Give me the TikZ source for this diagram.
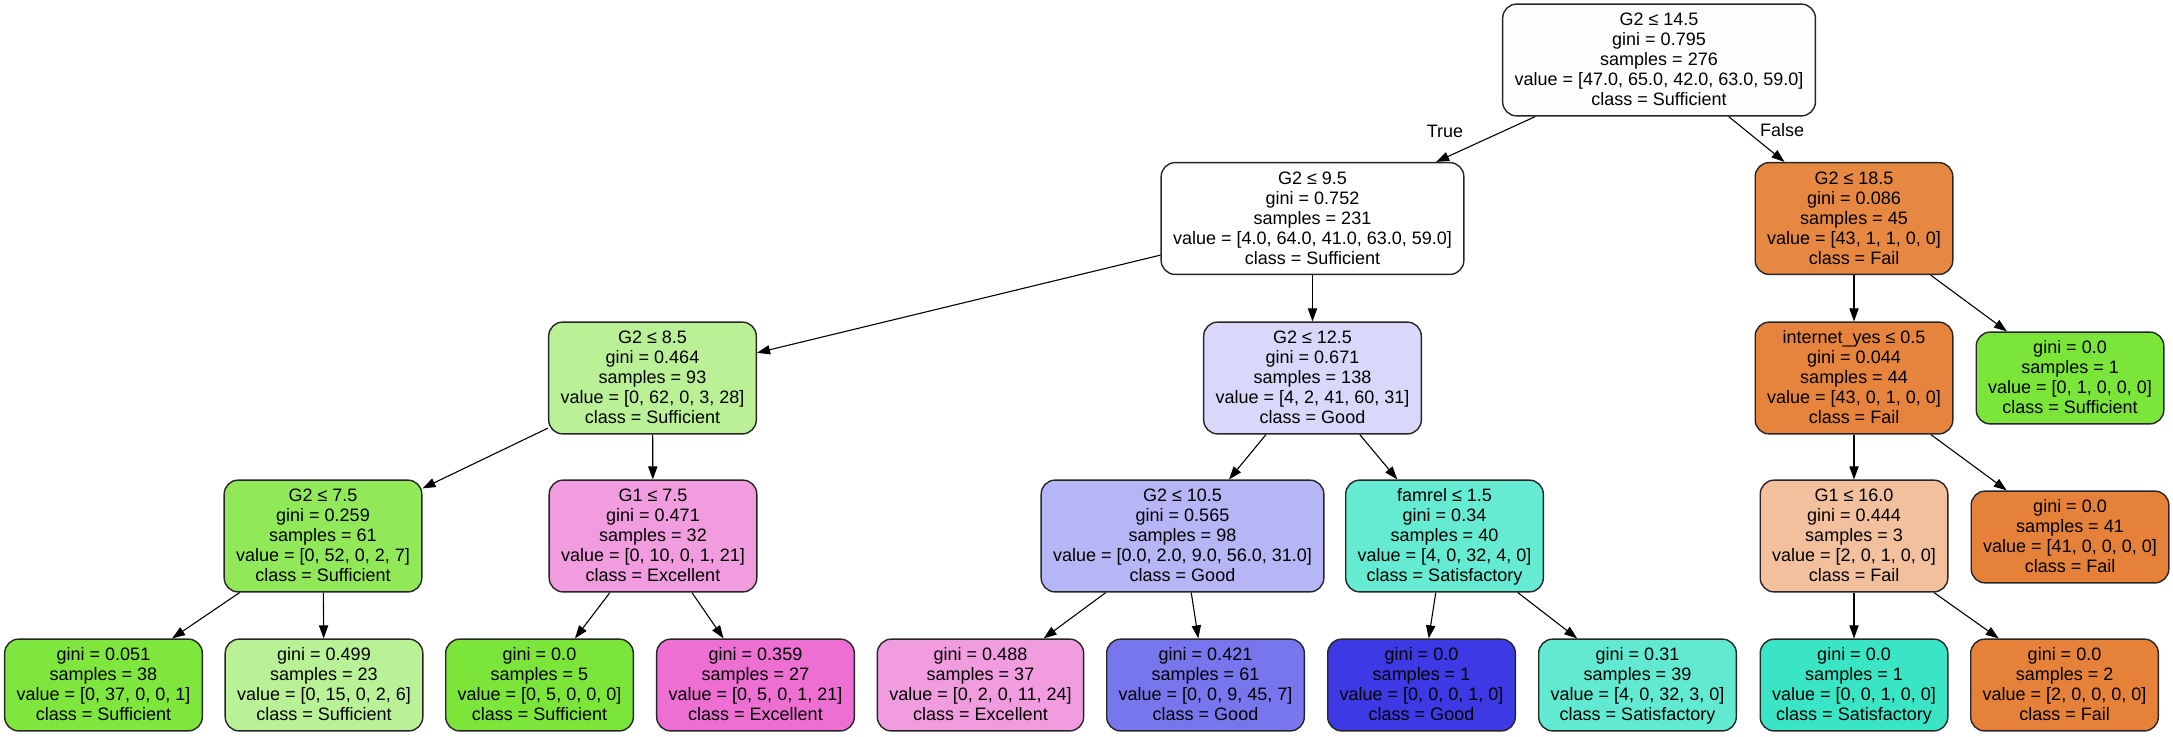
\documentclass[tikz,border=0pt]{standalone}
\usepackage{fontspec}
\setmainfont{Liberation Sans}
\usetikzlibrary{arrows.meta}

% class colours, blended with white by purity
\definecolor{cRoot}{RGB}{254,255,253}
\definecolor{cA}{RGB}{254,255,254}
\definecolor{cB}{RGB}{230,135,66}
\definecolor{cC}{RGB}{186,241,151}
\definecolor{cD}{RGB}{217,216,250}
\definecolor{cE}{RGB}{230,132,62}
\definecolor{cGreen}{RGB}{123,229,57}
\definecolor{cF}{RGB}{145,233,90}
\definecolor{cPinkHalf}{RGB}{242,156,224}
\definecolor{cG}{RGB}{182,181,245}
\definecolor{cH}{RGB}{101,235,210}
\definecolor{cOrange}{RGB}{229,129,57}
\definecolor{cI}{RGB}{242,192,156}
\definecolor{cJ}{RGB}{127,230,62}
\definecolor{cK}{RGB}{185,241,150}
\definecolor{cL}{RGB}{236,111,209}
\definecolor{cM}{RGB}{120,118,237}
\definecolor{cBlue}{RGB}{60,57,229}
\definecolor{cN}{RGB}{97,234,209}
\definecolor{cTeal}{RGB}{57,229,197}

\newcommand{\boxtxt}[1]{\rule{0pt}{7.7pt}#1\rule[-2.2pt]{0pt}{2.2pt}}

\tikzset{
  treenode/.style={draw=black!85, line width=0.7pt, rounded corners=7pt,
    align=center, font=\fontsize{9}{10}\selectfont,
    inner xsep=6pt, inner ysep=3pt, fill=#1},
  edge/.style={draw=black, line width=0.55pt,
    -{Triangle[length=6.5pt,width=4.6pt]}},
  elabel/.style={font=\fontsize{9}{10}\selectfont, inner sep=0pt}
}

\begin{document}
\begin{tikzpicture}[x=0.5pt, y=-0.5pt]
\useasboundingbox (0,0) rectangle (2173,736);

% level 0
\node[treenode=cRoot] (root) at (1659,60) {\boxtxt{G2 ≤ 14.5\\gini = 0.795\\samples = 276\\value = [47.0, 65.0, 42.0, 63.0, 59.0]\\class = Sufficient}};

% level 1
\node[treenode=cA] (n1) at (1312.5,218.5) {\boxtxt{G2 ≤ 9.5\\gini = 0.752\\samples = 231\\value = [4.0, 64.0, 41.0, 63.0, 59.0]\\class = Sufficient}};
\node[treenode=cB] (n2) at (1854,218.5) {\boxtxt{G2 ≤ 18.5\\gini = 0.086\\samples = 45\\value = [43, 1, 1, 0, 0]\\class = Fail}};

% level 2
\node[treenode=cC] (n3) at (652.5,378) {\boxtxt{G2 ≤ 8.5\\gini = 0.464\\samples = 93\\value = [0, 62, 0, 3, 28]\\class = Sufficient}};
\node[treenode=cD] (n4) at (1312.5,378) {\boxtxt{G2 ≤ 12.5\\gini = 0.671\\samples = 138\\value = [4, 2, 41, 60, 31]\\class = Good}};
\node[treenode=cE] (n5) at (1854,378) {\boxtxt{internet\_yes ≤ 0.5\\gini = 0.044\\samples = 44\\value = [43, 0, 1, 0, 0]\\class = Fail}};
\node[treenode=cGreen] (n6) at (2070,378) {\boxtxt{gini = 0.0\\samples = 1\\value = [0, 1, 0, 0, 0]\\class = Sufficient}};

% level 3
\node[treenode=cF] (n7) at (323,536) {\boxtxt{G2 ≤ 7.5\\gini = 0.259\\samples = 61\\value = [0, 52, 0, 2, 7]\\class = Sufficient}};
\node[treenode=cPinkHalf] (n8) at (653,536) {\boxtxt{G1 ≤ 7.5\\gini = 0.471\\samples = 32\\value = [0, 10, 0, 1, 21]\\class = Excellent}};
\node[treenode=cG] (n9) at (1182.5,536) {\boxtxt{G2 ≤ 10.5\\gini = 0.565\\samples = 98\\value = [0.0, 2.0, 9.0, 56.0, 31.0]\\class = Good}};
\node[treenode=cH] (n10) at (1444.5,536) {\boxtxt{famrel ≤ 1.5\\gini = 0.34\\samples = 40\\value = [4, 0, 32, 4, 0]\\class = Satisfactory}};
\node[treenode=cI] (n11) at (1854,536) {\boxtxt{G1 ≤ 16.0\\gini = 0.444\\samples = 3\\value = [2, 0, 1, 0, 0]\\class = Fail}};
\node[treenode=cOrange] (n12) at (2070,537) {\boxtxt{gini = 0.0\\samples = 41\\value = [41, 0, 0, 0, 0]\\class = Fail}};

% level 4 (leaves)
\node[treenode=cJ] (l1) at (103.5,685) {\boxtxt{gini = 0.051\\samples = 38\\value = [0, 37, 0, 0, 1]\\class = Sufficient}};
\node[treenode=cK] (l2) at (324,685) {\boxtxt{gini = 0.499\\samples = 23\\value = [0, 15, 0, 2, 6]\\class = Sufficient}};
\node[treenode=cGreen] (l3) at (539.5,685) {\boxtxt{gini = 0.0\\samples = 5\\value = [0, 5, 0, 0, 0]\\class = Sufficient}};
\node[treenode=cL] (l4) at (755.5,685) {\boxtxt{gini = 0.359\\samples = 27\\value = [0, 5, 0, 1, 21]\\class = Excellent}};
\node[treenode=cPinkHalf] (l5) at (980.5,685) {\boxtxt{gini = 0.488\\samples = 37\\value = [0, 2, 0, 11, 24]\\class = Excellent}};
\node[treenode=cM] (l6) at (1205.5,685) {\boxtxt{gini = 0.421\\samples = 61\\value = [0, 0, 9, 45, 7]\\class = Good}};
\node[treenode=cBlue] (l7) at (1421.5,685) {\boxtxt{gini = 0.0\\samples = 1\\value = [0, 0, 0, 1, 0]\\class = Good}};
\node[treenode=cN] (l8) at (1637.5,685) {\boxtxt{gini = 0.31\\samples = 39\\value = [4, 0, 32, 3, 0]\\class = Satisfactory}};
\node[treenode=cTeal] (l9) at (1854,685) {\boxtxt{gini = 0.0\\samples = 1\\value = [0, 0, 1, 0, 0]\\class = Satisfactory}};
\node[treenode=cOrange] (l10) at (2064.5,685) {\boxtxt{gini = 0.0\\samples = 2\\value = [2, 0, 0, 0, 0]\\class = Fail}};

% connectors
\draw[edge] (root) -- (n1);
\draw[edge] (root) -- (n2);
\draw[edge] (n1) -- (n3);
\draw[edge] (n1) -- (n4);
\draw[edge] (n2) -- (n5);
\draw[edge] (n2) -- (n6);
\draw[edge] (n3) -- (n7);
\draw[edge] (n3) -- (n8);
\draw[edge] (n4) -- (n9);
\draw[edge] (n4) -- (n10);
\draw[edge] (n5) -- (n11);
\draw[edge] (n5) -- (n12);
\draw[edge] (n7) -- (l1);
\draw[edge] (n7) -- (l2);
\draw[edge] (n8) -- (l3);
\draw[edge] (n8) -- (l4);
\draw[edge] (n9) -- (l5);
\draw[edge] (n9) -- (l6);
\draw[edge] (n10) -- (l7);
\draw[edge] (n10) -- (l8);
\draw[edge] (n11) -- (l9);
\draw[edge] (n11) -- (l10);

% branch labels
\node[elabel] (tlab) at (1445,131) {True};
\node[elabel] (flab) at (1782,130) {False};
\end{tikzpicture}
\end{document}
